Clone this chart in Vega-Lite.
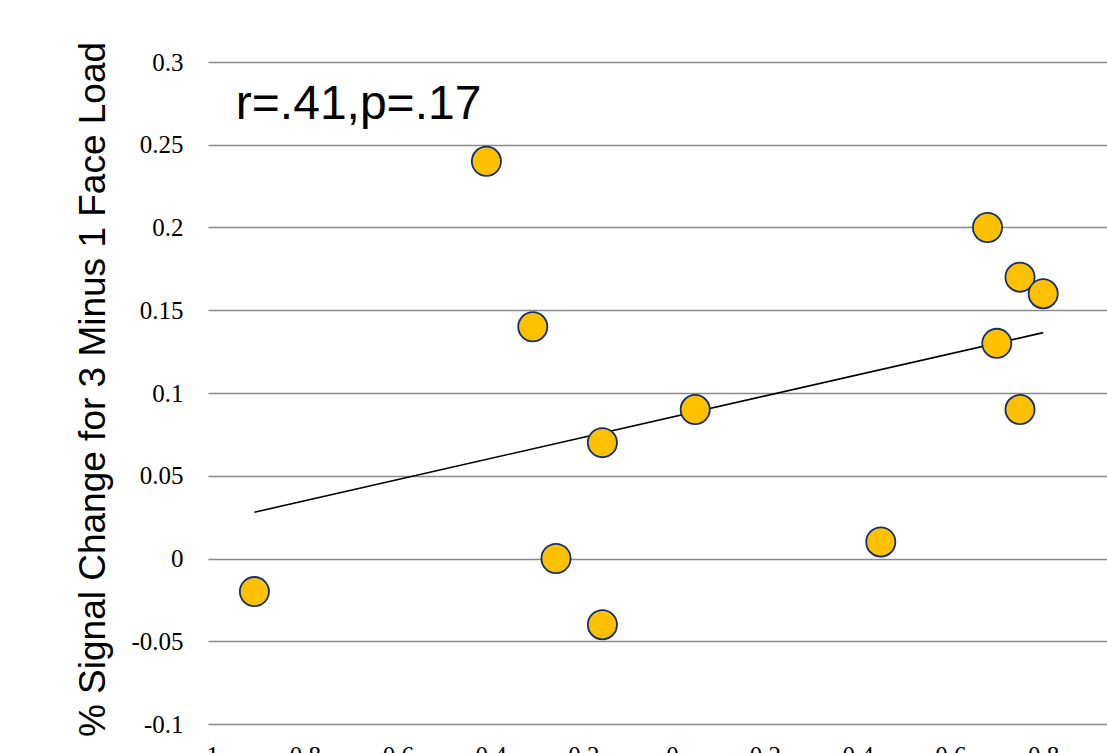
{
  "$schema": "https://vega.github.io/schema/vega-lite/v6.json",
  "width": 899,
  "height": 662,
  "autosize": {"type": "none"},
  "padding": {"left": 208, "top": 62, "right": 0, "bottom": 29},
  "background": "white",
  "config": {
    "view": {"stroke": null},
    "axis": {"domain": false, "ticks": false, "tickSize": 0}
  },
  "data": {
    "values": [
      {"x": -0.90, "y": -0.02},
      {"x": -0.40, "y": 0.24},
      {"x": -0.30, "y": 0.14},
      {"x": -0.25, "y": 0.00},
      {"x": -0.15, "y": 0.07},
      {"x": -0.15, "y": -0.04},
      {"x": 0.05, "y": 0.09},
      {"x": 0.45, "y": 0.01},
      {"x": 0.68, "y": 0.20},
      {"x": 0.70, "y": 0.13},
      {"x": 0.75, "y": 0.17},
      {"x": 0.75, "y": 0.09},
      {"x": 0.80, "y": 0.16}
    ]
  },
  "encoding": {
    "x": {
      "field": "x",
      "type": "quantitative",
      "scale": {"domain": [-1, 0.9375], "nice": false, "zero": false},
      "axis": {
        "values": [-1, -0.8, -0.6, -0.4, -0.2, 0, 0.2, 0.4, 0.6, 0.8],
        "labelExpr": "toString(datum.value)",
        "grid": false,
        "title": null,
        "labelFont": "Liberation Serif",
        "labelFontSize": 25,
        "labelColor": "#000000",
        "labelPadding": 19,
        "labelFlush": false,
        "labelOverlap": false
      }
    },
    "y": {
      "field": "y",
      "type": "quantitative",
      "scale": {"domain": [-0.1, 0.3], "nice": false, "zero": false},
      "axis": {
        "values": [-0.1, -0.05, 0, 0.05, 0.1, 0.15, 0.2, 0.25, 0.3],
        "labelExpr": "toString(datum.value)",
        "grid": true,
        "gridColor": "#898989",
        "gridWidth": 1.6,
        "gridOpacity": 1,
        "labelFont": "Liberation Serif",
        "labelFontSize": 25,
        "labelColor": "#000000",
        "labelPadding": 25,
        "labelFlush": false,
        "labelOverlap": false,
        "title": "% Signal Change for 3 Minus 1 Face Load",
        "titleFont": "Liberation Sans",
        "titleFontSize": 37,
        "titleFontWeight": "normal",
        "titleColor": "#000000",
        "titleAngle": -90,
        "titleAlign": "center",
        "titleBaseline": "alphabetic",
        "titleX": -104,
        "titleY": 327
      }
    }
  },
  "layer": [
    {
      "transform": [{"regression": "y", "on": "x"}],
      "mark": {"type": "line", "color": "#000000", "strokeWidth": 1.6}
    },
    {
      "mark": {
        "type": "point",
        "shape": "circle",
        "filled": true,
        "size": 850,
        "fill": "#FFC000",
        "stroke": "#13306B",
        "strokeWidth": 1.8,
        "opacity": 1
      }
    },
    {
      "data": {"values": [{"x": -0.94, "y": 0.2655, "label": "r=.41,p=.17"}]},
      "mark": {
        "type": "text",
        "align": "left",
        "baseline": "alphabetic",
        "font": "Liberation Sans",
        "fontSize": 48,
        "color": "#000000"
      },
      "encoding": {"text": {"field": "label"}}
    }
  ]
}
